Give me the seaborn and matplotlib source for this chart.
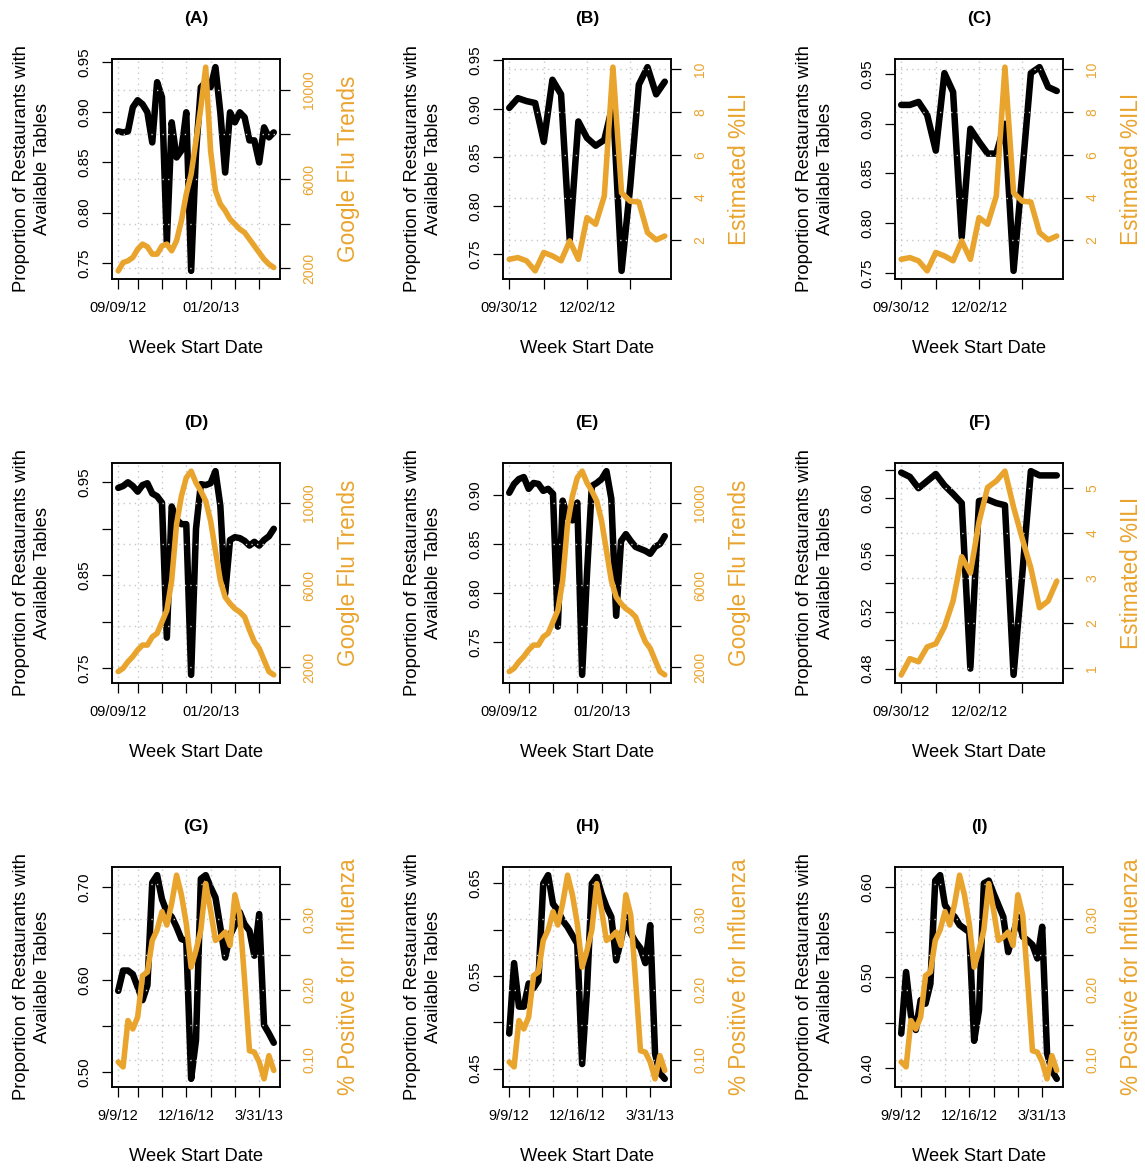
"""
Restaurant table availability vs. influenza activity, nine panels (A)-(I).
"""

import pandas as pd
import seaborn as sns
import matplotlib
matplotlib.use("Agg")
import matplotlib.pyplot as plt

sns.set_style("ticks")
plt.rcParams['font.family'] = ['Liberation Sans', 'DejaVu Sans']
plt.rcParams.update({'text.color': 'black', 'axes.labelcolor': 'black',
                     'xtick.color': 'black', 'ytick.color': 'black',
                     'axes.edgecolor': 'black'})

ORANGE = '#E9A42E'

# -------------------------------------------------- DATA -------------------------------------------------- #

# weekly index: long panels start 09/09/12 (33 weeks), short panels start 09/30/12 (19 weeks)
weeks_long = list(range(33))
weeks_short = list(range(19))

a_tables = [0.881, 0.880, 0.881, 0.905, 0.912, 0.908, 0.900, 0.870, 0.930, 0.915, 0.770,
            0.890, 0.855, 0.862, 0.900, 0.742, 0.860, 0.925, 0.930, 0.925, 0.945, 0.900,
            0.840, 0.900, 0.890, 0.900, 0.895, 0.872, 0.872, 0.850, 0.885, 0.875, 0.880]
a_gft = [1880, 2250, 2330, 2480, 2850, 3080, 2960, 2630, 2630, 3000, 3080, 2780, 3230,
         4130, 5330, 6220, 7720, 9220, 11020, 7270, 5480, 4880, 4580, 4200, 3980, 3750,
         3600, 3300, 3000, 2700, 2400, 2180, 2030]

b_tables = [0.901, 0.911, 0.908, 0.906, 0.866, 0.930, 0.915, 0.765, 0.887, 0.870,
            0.862, 0.868, 0.905, 0.733, 0.820, 0.925, 0.943, 0.915, 0.928]
c_tables = [0.919, 0.919, 0.922, 0.909, 0.873, 0.951, 0.932, 0.786, 0.895, 0.882,
            0.870, 0.870, 0.900, 0.752, 0.850, 0.951, 0.957, 0.937, 0.933]
bc_ili = [1.11, 1.19, 1.04, 0.57, 1.43, 1.27, 1.04, 1.97, 1.11, 3.06, 2.75, 4.07,
          10.1, 4.22, 3.83, 3.79, 2.36, 2.02, 2.20]

d_tables = [0.944, 0.946, 0.950, 0.946, 0.940, 0.947, 0.949, 0.938, 0.935, 0.928, 0.783,
            0.924, 0.910, 0.905, 0.905, 0.743, 0.900, 0.948, 0.947, 0.949, 0.962, 0.925,
            0.830, 0.888, 0.891, 0.890, 0.887, 0.882, 0.886, 0.882, 0.888, 0.892, 0.900]
e_tables = [0.902, 0.911, 0.916, 0.918, 0.906, 0.912, 0.911, 0.904, 0.906, 0.901, 0.766,
            0.894, 0.877, 0.874, 0.892, 0.717, 0.820, 0.909, 0.912, 0.916, 0.924, 0.896,
            0.777, 0.853, 0.860, 0.853, 0.847, 0.845, 0.843, 0.840, 0.847, 0.850, 0.858]
de_gft = [1790, 1950, 2270, 2520, 2840, 3080, 3080, 3480, 3650, 4210, 4770, 6230, 8970,
          10340, 11230, 11550, 10980, 10580, 10100, 9130, 7680, 6230, 5420, 5100, 4850,
          4690, 4450, 3810, 3240, 2920, 2350, 1790, 1630]

f_tables = [0.618, 0.615, 0.607, 0.612, 0.617, 0.609, 0.603, 0.5965, 0.480, 0.598,
            0.599, 0.5965, 0.595, 0.4756, 0.546, 0.619, 0.616, 0.616, 0.616]
f_ili = [0.85, 1.21, 1.14, 1.47, 1.54, 1.91, 2.49, 3.47, 3.11, 4.24, 5.01, 5.15,
         5.37, 4.57, 3.88, 3.22, 2.34, 2.49, 2.93]

g_tables = [0.588, 0.610, 0.610, 0.606, 0.592, 0.578, 0.594, 0.705, 0.713, 0.687, 0.673,
            0.668, 0.657, 0.644, 0.642, 0.493, 0.535, 0.709, 0.713, 0.700, 0.689, 0.657,
            0.624, 0.648, 0.659, 0.673, 0.660, 0.653, 0.626, 0.671, 0.551, 0.542, 0.532]
h_tables = [0.488, 0.564, 0.517, 0.517, 0.542, 0.537, 0.545, 0.650, 0.659, 0.628, 0.621,
            0.610, 0.603, 0.594, 0.585, 0.455, 0.535, 0.650, 0.657, 0.639, 0.625, 0.614,
            0.567, 0.589, 0.614, 0.596, 0.587, 0.580, 0.564, 0.605, 0.466, 0.445, 0.439]
i_tables = [0.438, 0.506, 0.458, 0.442, 0.475, 0.471, 0.493, 0.607, 0.613, 0.580, 0.572,
            0.567, 0.558, 0.554, 0.550, 0.430, 0.464, 0.604, 0.607, 0.593, 0.580, 0.567,
            0.528, 0.547, 0.567, 0.545, 0.541, 0.536, 0.521, 0.556, 0.416, 0.397, 0.388]
ghi_pos = [0.097, 0.090, 0.156, 0.144, 0.161, 0.220, 0.225, 0.270, 0.285, 0.311, 0.292,
           0.323, 0.363, 0.335, 0.294, 0.232, 0.256, 0.285, 0.351, 0.313, 0.270, 0.275,
           0.282, 0.263, 0.335, 0.306, 0.213, 0.113, 0.111, 0.097, 0.073, 0.106, 0.085]

# tick positions (week index) and labels
xt_long = [0, 4, 9, 14, 19, 24, 29]
xtl_long_a = ['09/09/12', '', '', '', '01/20/13', '', '']
xtl_long_g = ['9/9/12', '', '', '12/16/12', '', '', '3/31/13']
xt_short = [0, 4, 9, 14]
xtl_short = ['09/30/12', '', '12/02/12', '']

gft_ticks = [2000, 4000, 6000, 8000, 10000]
gft_labels = ['2000', '', '6000', '', '10000']
ili_ticks = [2, 4, 6, 8, 10]
ili_labels = ['2', '4', '6', '8', '10']
f_ili_ticks = [1, 2, 3, 4, 5]
f_ili_labels = ['1', '2', '3', '4', '5']
pos_ticks = [0.10, 0.15, 0.20, 0.25, 0.30, 0.35]
pos_labels = ['0.10', '', '0.20', '', '0.30', '']

panels = [
    ('(A)', 0, 0, weeks_long, a_tables, a_gft, 'Google Flu Trends', xt_long, xtl_long_a,
     [0.75, 0.80, 0.85, 0.90, 0.95], ['0.75', '0.80', '0.85', '0.90', '0.95'], gft_ticks, gft_labels),
    ('(B)', 0, 1, weeks_short, b_tables, bc_ili, 'Estimated %ILI', xt_short, xtl_short,
     [0.75, 0.80, 0.85, 0.90, 0.95], ['0.75', '0.80', '0.85', '0.90', '0.95'], ili_ticks, ili_labels),
    ('(C)', 0, 2, weeks_short, c_tables, bc_ili, 'Estimated %ILI', xt_short, xtl_short,
     [0.75, 0.80, 0.85, 0.90, 0.95], ['0.75', '0.80', '0.85', '0.90', '0.95'], ili_ticks, ili_labels),
    ('(D)', 1, 0, weeks_long, d_tables, de_gft, 'Google Flu Trends', xt_long, xtl_long_a,
     [0.75, 0.80, 0.85, 0.90, 0.95], ['0.75', '', '0.85', '', '0.95'], gft_ticks, gft_labels),
    ('(E)', 1, 1, weeks_long, e_tables, de_gft, 'Google Flu Trends', xt_long, xtl_long_a,
     [0.75, 0.80, 0.85, 0.90], ['0.75', '0.80', '0.85', '0.90'], gft_ticks, gft_labels),
    ('(F)', 1, 2, weeks_short, f_tables, f_ili, 'Estimated %ILI', xt_short, xtl_short,
     [0.48, 0.50, 0.52, 0.54, 0.56, 0.58, 0.60, 0.62], ['0.48', '', '0.52', '', '0.56', '', '0.60', ''],
     f_ili_ticks, f_ili_labels),
    ('(G)', 2, 0, weeks_long, g_tables, ghi_pos, '% Positive for Influenza', xt_long, xtl_long_g,
     [0.50, 0.55, 0.60, 0.65, 0.70], ['0.50', '', '0.60', '', '0.70'], pos_ticks, pos_labels),
    ('(H)', 2, 1, weeks_long, h_tables, ghi_pos, '% Positive for Influenza', xt_long, xtl_long_g,
     [0.45, 0.50, 0.55, 0.60, 0.65], ['0.45', '', '0.55', '', '0.65'], pos_ticks, pos_labels),
    ('(I)', 2, 2, weeks_long, i_tables, ghi_pos, '% Positive for Influenza', xt_long, xtl_long_g,
     [0.40, 0.45, 0.50, 0.55, 0.60], ['0.40', '', '0.50', '', '0.60'], pos_ticks, pos_labels),
]

# -------------------------------------------------- PLOT -------------------------------------------------- #

fig = plt.figure(figsize=(11.45, 11.68), dpi=100)

col_left = [112 / 1145, 503 / 1145, 895 / 1145]
row_bottom = [1 - 279 / 1168, 1 - 683 / 1168, 1 - 1087 / 1168]
ax_w = 168 / 1145
ax_h = 220 / 1168
grid_kw = dict(color='#C8C8C8', ls=(0, (1, 3)), lw=1.0)

for (title, r, c, x, tables, flu, flu_label, xt, xtl, lt, ltl, rt, rtl) in panels:
    ax = fig.add_axes([col_left[c], row_bottom[r], ax_w, ax_h])
    df = pd.DataFrame({'week': x, 'tables': tables, 'flu': flu})

    sns.lineplot(data=df, x='week', y='tables', ax=ax, color='black', lw=4.7,
                 solid_capstyle='round', solid_joinstyle='round')
    ax2 = ax.twinx()
    sns.lineplot(data=df, x='week', y='flu', ax=ax2, color=ORANGE, lw=4.0,
                 solid_capstyle='round', solid_joinstyle='round')

    ax.margins(x=0.04, y=0.04)
    ax2.margins(x=0.04, y=0.04)
    xlim, ylim, y2lim = ax.get_xlim(), ax.get_ylim(), ax2.get_ylim()

    ax.set_xticks(xt, xtl)
    ax.set_yticks(lt, ltl)
    ax2.set_yticks(rt, rtl)
    ax.set_xlim(xlim)
    ax.set_ylim(ylim)
    ax2.set_ylim(y2lim)

    ax.set_xlabel('')
    ax.set_ylabel('')
    ax2.set_ylabel('')

    ax.grid(axis='x', **grid_kw)
    ax2.grid(axis='y', **grid_kw)

    for a in (ax, ax2):
        for s in a.spines.values():
            s.set_visible(True)
            s.set_linewidth(1.1)
            s.set_color('black')

    ax.tick_params(axis='x', length=7, width=0.9, pad=9, labelsize=10.5, colors='black')
    ax.tick_params(axis='y', length=7, width=0.9, pad=8, labelsize=11, labelrotation=90,
                   colors='black')
    for lbl in ax.get_yticklabels():
        lbl.set_va('center')
    ax2.tick_params(axis='y', length=7, width=0.9, pad=9, labelsize=10, labelrotation=90,
                    color='black', labelcolor=ORANGE)
    for lbl in ax2.get_yticklabels():
        lbl.set_va('center')

    ax.text(0.5, 1.185, title, transform=ax.transAxes, ha='center', va='center',
            fontsize=12.5, fontweight='bold')
    ax.text(0.5, -0.315, 'Week Start Date', transform=ax.transAxes, ha='center', va='center',
            fontsize=13.2)
    ax.text(-0.478, 0.5, 'Proportion of Restaurants with\nAvailable Tables', transform=ax.transAxes,
            ha='center', va='center', rotation=90, fontsize=13.2, linespacing=1.3)
    ax.text(1.41, 0.5, flu_label, transform=ax.transAxes, ha='center', va='center',
            rotation=90, fontsize=16.3, color=ORANGE)

fig.savefig('out.png', dpi=100)
